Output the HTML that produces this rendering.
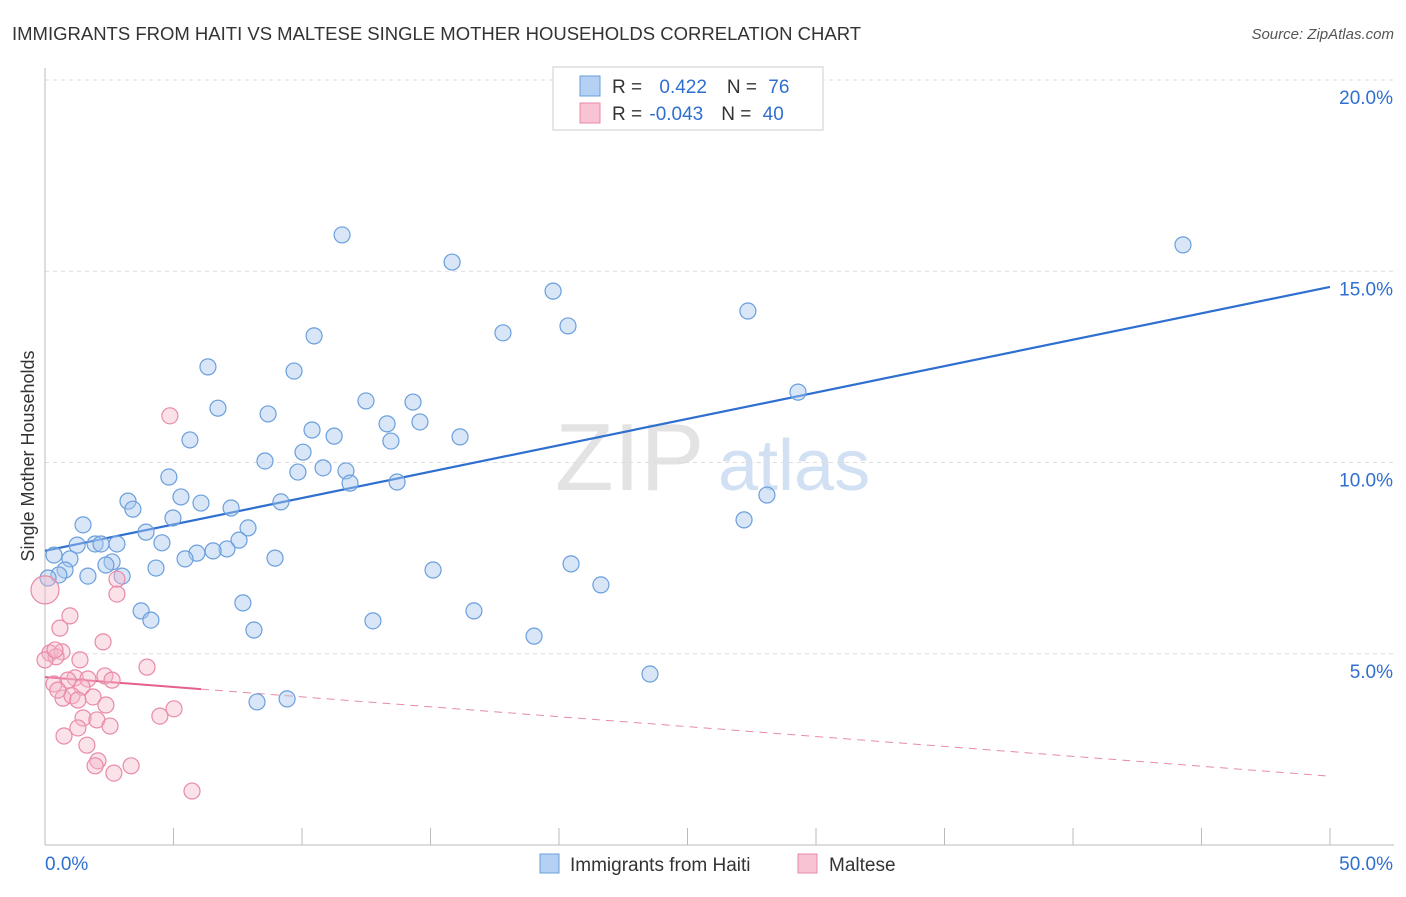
<!DOCTYPE html>
<html><head><meta charset="utf-8"><style>
body{margin:0;background:#fff;font-family:"Liberation Sans",sans-serif}
svg text{font-family:"Liberation Sans",sans-serif}
</style></head><body>
<svg id="chart" width="1406" height="892" viewBox="0 0 1406 892">
<text x="12" y="40" font-size="18.5" fill="#333">IMMIGRANTS FROM HAITI VS MALTESE SINGLE MOTHER HOUSEHOLDS CORRELATION CHART</text>
<text x="1394" y="39" font-size="15" fill="#555" font-style="italic" text-anchor="end">Source: ZipAtlas.com</text>
<g>
<text x="555" y="490" font-size="96" fill="#ddd" font-family="Liberation Serif" opacity="0.8">ZIP</text>
<text x="718" y="490" font-size="72" fill="#c7d9f1" opacity="0.8">atlas</text>
</g>
<g id="grid"></g>
<g id="axes"></g>
<g id="trends"></g>
<g id="points"></g>
<text transform="translate(34,456) rotate(-90)" font-size="18" fill="#333" text-anchor="middle">Single Mother Households</text>
<g>
<rect x="553" y="67" width="270" height="63" fill="#fff" stroke="#ccc"/>
<rect x="580" y="76" width="20" height="20" fill="#b4d0f3" stroke="#6a9fdc"/>
<rect x="580" y="103" width="20" height="20" fill="#f8c3d3" stroke="#e88aa8"/>
<text x="612" y="93" font-size="19" fill="#333">R = <tspan fill="#2f6fd0" dx="12">0.422</tspan><tspan dx="20" fill="#333">N = </tspan><tspan fill="#2f6fd0" dx="6">76</tspan></text>
<text x="612" y="120" font-size="19" fill="#333">R = <tspan fill="#2f6fd0" dx="2">-0.043</tspan><tspan dx="18" fill="#333">N = </tspan><tspan fill="#2f6fd0" dx="6">40</tspan></text>
</g>
<g>
<rect x="540" y="854" width="19" height="19" fill="#b4d0f3" stroke="#6a9fdc"/>
<text x="570" y="871" font-size="19" fill="#333">Immigrants from Haiti</text>
<rect x="798" y="854" width="19" height="19" fill="#f8c3d3" stroke="#e88aa8"/>
<text x="829" y="871" font-size="19" fill="#333">Maltese</text>
</g>
</svg>
<script>
const xTicks=[0,5,10,15,20,25,30,35,40,45,50];
const yTicks=[5,10,15,20];
const yTickLabels=["5.0%","10.0%","15.0%","20.0%"];
const haitiX=[11.56,15.84,44.28,19.77,20.35,17.82,10.47,27.35,6.34,9.69,29.30,12.49,14.32,6.73,8.68,13.31,14.59,10.39,11.25,5.64,13.46,16.15,10.04,8.56,9.84,10.82,11.71,11.87,4.82,13.70,5.29,3.23,6.07,9.18,28.09,3.42,7.24,4.98,27.20,1.48,7.90,3.93,7.55,4.55,1.25,1.95,2.18,2.80,0.35,7.08,6.54,5.91,5.45,8.95,0.97,2.61,2.37,4.32,0.78,15.10,20.47,0.54,1.67,3.00,0.12,21.63,7.70,3.74,16.69,4.12,12.76,8.13,19.03,23.54,8.25,9.42];
const haitiY=[15.95,15.24,15.69,14.48,13.57,13.39,13.31,13.96,12.50,12.39,11.84,11.61,11.58,11.42,11.27,11.01,11.06,10.85,10.69,10.59,10.56,10.67,10.27,10.04,9.75,9.86,9.78,9.46,9.62,9.49,9.10,8.99,8.94,8.97,9.15,8.78,8.81,8.55,8.50,8.37,8.29,8.18,7.97,7.90,7.84,7.87,7.87,7.87,7.58,7.74,7.69,7.63,7.48,7.50,7.48,7.40,7.32,7.24,7.19,7.19,7.35,7.06,7.03,7.03,6.98,6.80,6.33,6.12,6.12,5.88,5.86,5.62,5.46,4.47,3.74,3.82];
const malteseX=[4.86,2.80,2.80,0.97,0.58,2.26,0.19,0.66,0.43,0,3.97,2.33,1.17,1.67,0.89,2.61,0.35,1.44,1.87,0.70,1.05,1.28,2.37,5.02,4.47,1.48,2.02,2.53,1.28,0.74,1.63,2.06,1.95,3.35,2.68,5.72,0,0.39,0.5,1.36];
const malteseY=[11.22,6.95,6.56,5.99,5.67,5.31,5.02,5.05,4.92,4.84,4.65,4.42,4.37,4.34,4.31,4.31,4.21,4.13,3.87,3.84,3.90,3.79,3.66,3.56,3.37,3.32,3.27,3.11,3.06,2.85,2.61,2.20,2.07,2.07,1.88,1.41,6.67,5.1,4.05,4.84];
const haitiTrend=[7.69,14.59];
const malteseTrend=[4.39,1.80];
const malteseSolidEnd=6.07;
const NS="http://www.w3.org/2000/svg";
const X=v=>45+v*25.7, Y=v=>845-v*38.25;
function mk(p,t,a){const e=document.createElementNS(NS,t);for(const k in a)e.setAttribute(k,a[k]);p.appendChild(e);return e;}
const grid=document.getElementById('grid'),axes=document.getElementById('axes'),tr=document.getElementById('trends'),pts=document.getElementById('points');
yTicks.forEach((t,i)=>{
 const l=mk(grid,'line',{x1:45,x2:1394,y1:Y(t),y2:Y(t),stroke:'#ddd','stroke-dasharray':'4,4'});
 
 const tx=mk(axes,'text',{x:1393,y:Y(t)+24,'font-size':19,fill:'#2f6fd0','text-anchor':'end'});tx.textContent=yTickLabels[i];
 
});
mk(axes,'line',{x1:45,x2:1394,y1:845,y2:845,stroke:'#bbb'});
mk(axes,'line',{x1:45,x2:45,y1:68,y2:845,stroke:'#bbb'});
xTicks.forEach(t=>{const l=mk(axes,'line',{x1:X(t),x2:X(t),y1:828,y2:845,stroke:'#bbb'});
 });
let a=mk(axes,'text',{x:45,y:870,'font-size':19,fill:'#2f6fd0'});a.textContent='0.0%';

a=mk(axes,'text',{x:1393,y:870,'font-size':19,fill:'#2f6fd0','text-anchor':'end'});a.textContent='50.0%';

haitiX.forEach((x,i)=>{const c=mk(pts,'circle',{cx:X(x),cy:Y(haitiY[i]),r:8,fill:'rgba(169,200,238,0.45)',stroke:'#6a9fdc','stroke-width':1.2});
 });
malteseX.forEach((x,i)=>{const c=mk(pts,'circle',{cx:X(x),cy:Y(malteseY[i]),r:(i==36?14:8),fill:'rgba(244,182,200,0.4)',stroke:'#e88aa8','stroke-width':1.2});
 });
let l=mk(tr,'line',{x1:X(0),y1:Y(haitiTrend[0]),x2:X(50),y2:Y(haitiTrend[1]),stroke:'#2f6fd0','stroke-width':2.2});

const my=v=>malteseTrend[0]+(malteseTrend[1]-malteseTrend[0])*v/50;
l=mk(tr,'line',{x1:X(0),y1:Y(malteseTrend[0]),x2:X(malteseSolidEnd),y2:Y(my(malteseSolidEnd)),stroke:'#e5608a','stroke-width':2});

l=mk(tr,'line',{x1:X(malteseSolidEnd),y1:Y(my(malteseSolidEnd)),x2:X(50),y2:Y(malteseTrend[1]),stroke:'#e88aa8','stroke-width':1,'stroke-dasharray':'8,6'});

</script>
</body></html>
